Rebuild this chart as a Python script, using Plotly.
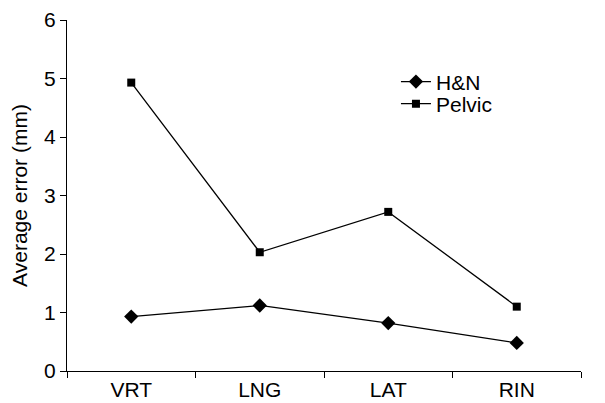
import plotly.graph_objects as go

categories = ["VRT", "LNG", "LAT", "RIN"]
hn_values = [0.93, 1.12, 0.82, 0.48]
pelvic_values = [4.93, 2.03, 2.72, 1.10]
y_ticks = [0, 1, 2, 3, 4, 5, 6]

FONT = "Liberation Sans, Arial, sans-serif"
FS = 21

fig = go.Figure()
fig.add_trace(go.Scatter(
    x=categories, y=hn_values, name="H&N", mode="lines+markers",
    line=dict(color="black", width=1.3),
    marker=dict(symbol="diamond", size=11, color="black"),
    legend="legend",
))
fig.add_trace(go.Scatter(
    x=categories, y=pelvic_values, name="Pelvic", mode="lines+markers",
    line=dict(color="black", width=1.3),
    marker=dict(symbol="square", size=8, color="black"),
    legend="legend2",
))

legend_common = dict(xanchor="left", yanchor="top", bgcolor="rgba(0,0,0,0)",
                     font=dict(size=FS), itemwidth=30)

fig.update_layout(
    width=597, height=395,
    margin=dict(l=59, r=24, t=12, b=32),
    paper_bgcolor="white", plot_bgcolor="white",
    font=dict(family=FONT, size=FS, color="black"),
    showlegend=True,
    legend=dict(x=0.64, y=0.882, **legend_common),
    legend2=dict(x=0.64, y=0.819, **legend_common),
    xaxis=dict(
        type="category", range=[-0.5, 3.5], tickson="boundaries",
        ticks="outside", ticklen=6, tickcolor="black", tickwidth=1,
        showline=True, linecolor="black", linewidth=1,
        showgrid=False, zeroline=False, automargin=False,
        tickfont=dict(size=FS),
    ),
    yaxis=dict(
        range=[0, 6], tickvals=y_ticks, ticks="outside", ticklen=6,
        tickcolor="black", tickwidth=1,
        showline=True, linecolor="black", linewidth=1,
        showgrid=False, zeroline=False, automargin=False,
        title=dict(text="Average error (mm)", font=dict(size=FS), standoff=16),
        tickfont=dict(size=FS),
    ),
)

fig.write_html("out.html")
